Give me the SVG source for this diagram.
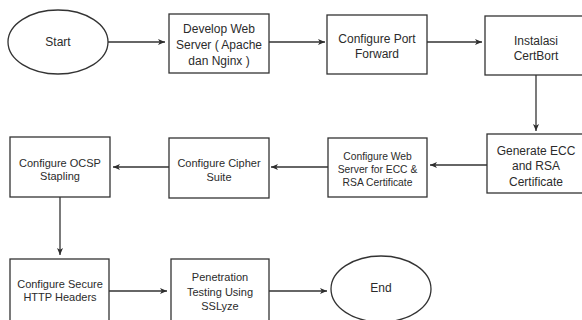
<svg xmlns="http://www.w3.org/2000/svg" width="582" height="320" viewBox="0 0 582 320">
  <defs>
    <marker id="arrow" viewBox="0 0 8 8" refX="7" refY="4" markerWidth="8" markerHeight="8" markerUnits="userSpaceOnUse" orient="auto">
      <path d="M0,1 L7,4 L0,7 L1.8,4 Z" fill="#2e2e2e"/>
    </marker>
    <style>
      .shape { fill: #ffffff; stroke: #333333; stroke-width: 1.3; }
      .conn { fill: none; stroke: #333333; stroke-width: 1.3; marker-end: url(#arrow); }
      text { font-family: "Liberation Sans", Arial, sans-serif; fill: #2b2b2b; text-anchor: middle; dominant-baseline: central; }
      .t12 { font-size: 12px; }
      .t11 { font-size: 11px; }
      .t10 { font-size: 10.3px; }
    </style>
  </defs>
  <rect width="582" height="320" fill="#ffffff"/>

  <!-- connectors -->
  <g id="connectors">
    <path class="conn" d="M108,42 H165"/>
    <path class="conn" d="M269,42 H325"/>
    <path class="conn" d="M427,42 H482"/>
    <path class="conn" d="M536,75 V131"/>
    <path class="conn" d="M487,165 H430"/>
    <path class="conn" d="M328,167 H271"/>
    <path class="conn" d="M169,167 H113"/>
    <path class="conn" d="M60,197 V255"/>
    <path class="conn" d="M109,291 H167"/>
    <path class="conn" d="M269,291 H327"/>
  </g>

  <!-- nodes -->
  <g id="start">
    <ellipse class="shape" cx="58" cy="42" rx="50" ry="32"/>
    <text class="t12" x="58" y="42">Start</text>
  </g>

  <g id="develop-web-server">
    <rect class="shape" x="169" y="14" width="100" height="59"/>
    <text class="t12" x="219" y="29">Develop Web</text>
    <text class="t12" x="219" y="45">Server ( Apache</text>
    <text class="t12" x="219" y="61">dan Nginx )</text>
  </g>

  <g id="configure-port-forward">
    <rect class="shape" x="327" y="15" width="100" height="59"/>
    <text class="t12" x="377" y="39">Configure Port</text>
    <text class="t12" x="377" y="54">Forward</text>
  </g>

  <g id="instalasi-certbort">
    <rect class="shape" x="485" y="16" width="102" height="59"/>
    <text class="t12" x="536" y="41">Instalasi</text>
    <text class="t12" x="536" y="56">CertBort</text>
  </g>

  <g id="generate-certificate">
    <rect class="shape" x="487" y="134" width="100" height="59"/>
    <text class="t12" x="536" y="151">Generate ECC</text>
    <text class="t12" x="536" y="166">and RSA</text>
    <text class="t12" x="536" y="182">Certificate</text>
  </g>

  <g id="configure-web-server">
    <rect class="shape" x="328" y="138" width="99" height="59"/>
    <text class="t10" x="377.5" y="156">Configure Web</text>
    <text class="t10" x="377.5" y="169">Server for ECC &amp;</text>
    <text class="t10" x="377.5" y="182">RSA Certificate</text>
  </g>

  <g id="configure-cipher-suite">
    <rect class="shape" x="169" y="138" width="100" height="60"/>
    <text class="t11" x="219" y="163">Configure Cipher</text>
    <text class="t11" x="219" y="177">Suite</text>
  </g>

  <g id="configure-ocsp-stapling">
    <rect class="shape" x="10" y="137" width="100" height="60"/>
    <text class="t11" x="60" y="163">Configure OCSP</text>
    <text class="t11" x="60" y="176">Stapling</text>
  </g>

  <g id="configure-secure-headers">
    <rect class="shape" x="10" y="259" width="99" height="62"/>
    <text class="t11" x="60" y="284">Configure Secure</text>
    <text class="t11" x="60" y="297">HTTP Headers</text>
  </g>

  <g id="penetration-testing">
    <rect class="shape" x="171" y="259" width="98" height="62"/>
    <text class="t11" x="220" y="277">Penetration</text>
    <text class="t11" x="220" y="292">Testing Using</text>
    <text class="t11" x="220" y="306">SSLyze</text>
  </g>

  <g id="end">
    <ellipse class="shape" cx="381" cy="289" rx="50" ry="33"/>
    <text class="t12" x="381" y="288">End</text>
  </g>
</svg>
